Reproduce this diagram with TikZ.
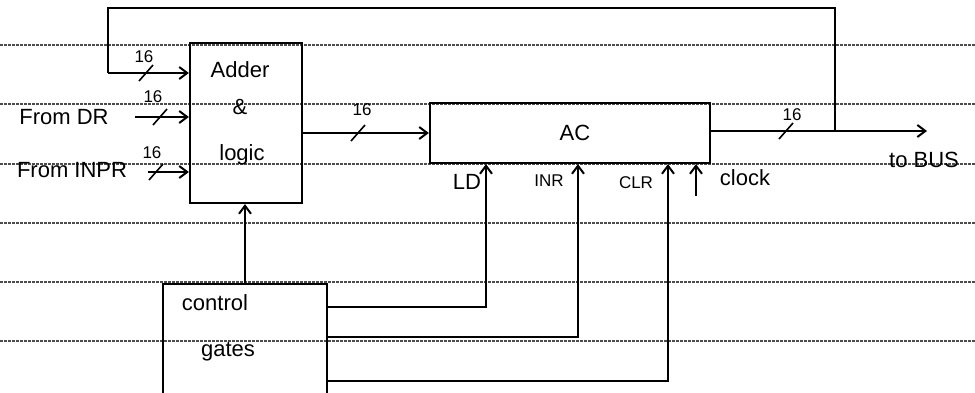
\documentclass[tikz,border=0pt]{standalone}
\usepackage{fontspec}
\setmainfont{Liberation Sans}
\usetikzlibrary{arrows.meta}
\begin{document}
\begin{tikzpicture}[x=1pt,y=-1pt, line width=2pt,
  box/.style={draw, line width=2.2pt, inner sep=0pt},
  lbl/.style={font=\fontsize{22}{26}\selectfont, inner sep=1pt},
  small/.style={font=\fontsize{17}{19}\selectfont, inner sep=1pt},
  arr/.style={-{Straight Barb[length=8pt,width=12pt]}},
  rule/.style={draw=black!70, line width=1.1pt, dash pattern=on 2.5pt off 1.5pt},
  busslash/.style={line width=1.6pt}]
\useasboundingbox (0,0) rectangle (975,392);
\foreach \y in {45,104,164,223,282,341} \draw[rule] (0,\y) -- (975,\y);

% blocks
\node[box, minimum width=112pt, minimum height=160pt] (adder) at (246,123) {};
\node[lbl] (adt1) at (240,70) {Adder};
\node[lbl] (adt2) at (240,107) {\&};
\node[lbl] (adt3) at (242,155) {logic};
\node[box, minimum width=280pt, minimum height=60pt] (ac) at (570,133) {};
\node[lbl] (act) at (575,133) {AC};
\node[box, minimum width=164pt, minimum height=116pt] (ctrl) at (245,342) {};
\node[lbl] (ct1) at (215,303) {control};
\node[lbl] (ct2) at (228,352) {gates};

% input labels
\node[lbl] (fdr) at (64,117) {From DR};
\node[lbl] (finpr) at (72,170) {From INPR};
\node[lbl] (bus) at (924,160) {to BUS};
\node[lbl] (ldl) at (467,182) {LD};
\node[small] (inrl) at (549,181) {INR};
\node[small] (clrl) at (636,183) {CLR};
\node[lbl] (clkl) at (745,178) {clock};

% bus width labels
\node[small] (w1) at (144,57) {16};
\node[small] (w2) at (153,97) {16};
\node[small] (w3) at (152,153) {16};
\node[small] (w4) at (362,110) {16};
\node[small] (w5) at (792,115) {16};

% feedback path
\coordinate (fbin) at (108,73);
\coordinate (fbtop) at (108,8);
\coordinate (fbtap) at (835,131);
\coordinate (outend) at (927,131);
\draw[arr] (fbin) -- (fbin -| adder.west);
\draw (fbtap) |- (fbtop) -- (fbin);
\draw[arr] (ac.east |- outend) -- (outend);

% inputs
\coordinate (drs) at (135,117);
\coordinate (ins) at (148,172);
\draw[arr] (drs) -- (drs -| adder.west);
\draw[arr] (ins) -- (ins -| adder.west);

% adder to AC
\draw[arr] (adder.east |- ac.west) -- (ac.west);

% bus slashes
\foreach \x/\y in {146/73, 160/117, 156/172, 358/133, 786/131}
  \draw[busslash] (\x-7,\y+8) -- (\x+7,\y-8);

% control lines
\coordinate (ld) at (486,307);
\coordinate (inr) at (578,337);
\coordinate (clr) at (668,381);
\draw[arr] (ctrl.north) -- (ctrl.north |- adder.south);
\draw[arr] (ctrl.east |- ld) -| (ac.south -| ld);
\draw[arr] (ctrl.east |- inr) -| (ac.south -| inr);
\draw[arr] (ctrl.east |- clr) -| (ac.south -| clr);
\coordinate (clk) at (696,196);
\draw[arr] (clk) -- (clk |- ac.south);
\end{tikzpicture}
\end{document}
